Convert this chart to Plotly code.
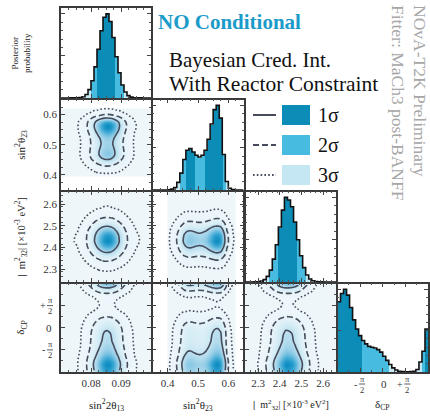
import numpy as np
import plotly.graph_objects as go

W, H = 430, 418

# ---------------- data ----------------
# axis ranges
TH13_RANGE = [0.07, 0.10]
TH23_RANGE = [0.35, 0.65]
DM2_RANGE = [2.24, 2.66]
DCP_RANGE = [-np.pi, np.pi]

# 1D posteriors, 30 equal bins across each range (relative height)
th13_post = [0.0005, 0.0006, 0.0008, 0.001, 0.0012, 0.0016, 0.005, 0.015, 0.042, 0.099,
             0.205, 0.37, 0.58, 0.80, 0.96, 1.0, 0.91, 0.72, 0.49, 0.30,
             0.155, 0.071, 0.028, 0.0099, 0.003, 0.0015, 0.001, 0.0008, 0.0006, 0.0005]
th23_post = [0, 0, 0, 0, 0, 0.002, 0.01, 0.03, 0.09, 0.2,
             0.36, 0.47, 0.49, 0.45, 0.41, 0.39, 0.41, 0.47, 0.6, 0.78,
             0.95, 1.0, 0.85, 0.42, 0.1, 0.02, 0.004, 0, 0, 0]
dm2_post = [0.0005, 0.0006, 0.0008, 0.001, 0.003, 0.010, 0.028, 0.067, 0.14, 0.27,
            0.44, 0.65, 0.85, 1.0, 0.97, 0.89, 0.71, 0.50, 0.31, 0.17,
            0.083, 0.036, 0.014, 0.005, 0.0015, 0.001, 0.0008, 0.0006, 0.0005, 0.0005]
dcp_post = [0.85, 0.95, 1.0, 0.93, 0.78, 0.63, 0.52, 0.44, 0.38, 0.34,
            0.31, 0.30, 0.29, 0.27, 0.24, 0.19, 0.14, 0.09, 0.05, 0.025,
            0.008, 0.004, 0.003, 0.003, 0.004, 0.008, 0.03, 0.12, 0.25, 0.52]

# tick labels
th13_ticks = [0.08, 0.09]
th13_ticktext = ["0.08", "0.09"]
th23_ticks = [0.4, 0.5, 0.6]
th23_ticktext = ["0.4", "0.5", "0.6"]
dm2_ticks = [2.3, 2.4, 2.5, 2.6]
dm2_ticktext = ["2.3", "2.4", "2.5", "2.6"]
dcp_ticks = [-np.pi / 2, 0.0, np.pi / 2]
dcp_sign = ["-", "", "+"]          # δ tick labels: sign + fraction (π over 2) or plain "0"
dcp_frac = [("π", "2"), None, ("π", "2")]

axis_titles = ["sin<sup>2</sup>2θ<sub>13</sub>", "sin<sup>2</sup>θ<sub>23</sub>",
               "<b>|</b>  m<sup>2</sup><sub>32</sub>| [×10<sup>-3</sup> eV<sup>2</sup>]",
               "δ<sub>CP</sub>"]
legend_labels = ["1σ", "2σ", "3σ"]
CRED = [0.6827, 0.9545, 0.9973]

# ---------------- styling ----------------
FONT = "Liberation Serif"
C_FILL = ["#0b8db8", "#47bbe0", "#c4e7f3"]
LINE_C = "#464c5c"
DASHES = ["solid", "6px,3px", "1.6px,2.2px"]
HEAT_CS = [[0, "#ffffff"], [1e-7, "#eef6fa"], [0.15, "#d4ecf5"], [0.45, "#92cce6"],
           [0.75, "#3ea9d5"], [1, "#0a8bbf"]]

params = [
    (TH13_RANGE, th13_post, th13_ticks, th13_ticktext, 0.0025),
    (TH23_RANGE, th23_post, th23_ticks, th23_ticktext, 0.025),
    (DM2_RANGE, dm2_post, dm2_ticks, dm2_ticktext, 0.025),
    (DCP_RANGE, dcp_post, dcp_ticks, ["", "", ""], np.pi / 4),
]

col_px = [(61, 151), (152.5, 243.5), (245, 336), (337.5, 428)]
row_px = [(8, 98), (99.5, 190), (191.5, 282), (283.5, 372)]


def xdom(c):
    a, b = col_px[c]
    return [a / W, b / W]


def ydom(r):
    a, b = row_px[r]
    return [1 - b / H, 1 - a / H]


def centers(rng, n):
    e = np.linspace(rng[0], rng[1], n + 1)
    return e, 0.5 * (e[:-1] + e[1:])


def minor_vals(rng, step, majors):
    n = int(round((rng[1] - rng[0]) / step))
    v = [rng[0] + i * step for i in range(n + 1)]
    return [x for x in v if all(abs(x - m) > step * 0.3 for m in majors)]


def hpd_levels(z):
    flat = np.sort(np.asarray(z, float).ravel())[::-1]
    cum = np.cumsum(flat) / flat.sum()
    return [flat[min(np.searchsorted(cum, p), len(flat) - 1)] for p in CRED]


fig = go.Figure()
layout = {}
panels = [(r, c) for r in range(4) for c in range(r + 1)]

for k, (r, c) in enumerate(panels):
    idx = k + 1
    xs = "x" if idx == 1 else f"x{idx}"
    ys = "y" if idx == 1 else f"y{idx}"
    rng_c, post_c, tv_c, tt_c, mdt_c = params[c]
    e_c, cen_c = centers(rng_c, len(post_c))
    if r == c:
        vals = np.array(post_c, float)
        lv = hpd_levels(vals)
        cols = []
        for v in vals:
            if v >= lv[0]:
                cols.append(C_FILL[0])
            elif v >= lv[1]:
                cols.append(C_FILL[1])
            elif v >= lv[2]:
                cols.append(C_FILL[2])
            else:
                cols.append("rgba(0,0,0,0)")
        bw = e_c[1] - e_c[0]
        fig.add_trace(go.Bar(x=cen_c, y=vals, width=bw, marker=dict(color=cols, line=dict(width=0)),
                             xaxis=xs, yaxis=ys, showlegend=False, hoverinfo="skip"))
        fig.add_trace(go.Scatter(x=[e_c[0]] + list(cen_c) + [e_c[-1]],
                                 y=[vals[0]] + list(vals) + [vals[-1]],
                                 mode="lines", line=dict(color="#111", width=1.6, shape="hvh"),
                                 xaxis=xs, yaxis=ys, showlegend=False, hoverinfo="skip"))
        yrng = [0, 1.07]
        ytv, ytt = [0, 0.5, 1.0], ["", "", ""]
        ymin = minor_vals([0, 1.07], 0.1, ytv)
    else:
        rng_r, post_r, tv_r, tt_r, mdt_r = params[r]
        e_r, cen_r = centers(rng_r, len(post_r))
        Z = np.outer(np.array(post_r, float), np.array(post_c, float))
        Z = Z / Z.max()
        fig.add_trace(go.Heatmap(x=cen_c, y=cen_r, z=Z, zmin=0, zmax=1, zsmooth="best",
                                 colorscale=HEAT_CS, showscale=False, hoverinfo="skip",
                                 xaxis=xs, yaxis=ys))
        lv = hpd_levels(Z)
        for L, dash in zip(lv, DASHES):
            fig.add_trace(go.Contour(x=cen_c, y=cen_r, z=Z, showscale=False, hoverinfo="skip",
                                     contours=dict(start=L, end=L, size=1, coloring="none"),
                                     line=dict(color=LINE_C, width=1.6, dash=dash, smoothing=1.0),
                                     xaxis=xs, yaxis=ys))
        yrng = rng_r
        ytv, ytt = tv_r, tt_r
        ymin = minor_vals(rng_r, mdt_r, tv_r)
    common = dict(showline=True, linewidth=1.6, linecolor="#3a3a3a", mirror="allticks",
                  ticks="inside", ticklen=4, tickwidth=1, tickcolor="#444",
                  showgrid=False, zeroline=False, fixedrange=True,
                  tickfont=dict(family=FONT, size=11, color="#333"))
    layout["xaxis" if idx == 1 else f"xaxis{idx}"] = dict(
        common, domain=xdom(c), range=rng_c, anchor=ys, tickmode="array",
        tickvals=tv_c, ticktext=tt_c, showticklabels=(r == 3 and c < 3),
        minor=dict(ticks="inside", ticklen=2, tickmode="array",
                   tickvals=minor_vals(rng_c, mdt_c, tv_c), tickcolor="#555"))
    layout["yaxis" if idx == 1 else f"yaxis{idx}"] = dict(
        common, domain=ydom(r), range=yrng, anchor=xs, tickmode="array",
        tickvals=ytv, ticktext=ytt, showticklabels=(c == 0 and 0 < r < 3),
        minor=dict(ticks="inside", ticklen=2, tickmode="array", tickvals=ymin, tickcolor="#555"))

annotations = []
shapes = []


def ann(x, y, text, size, color="#222", xanchor="center", yanchor="middle", angle=0):
    annotations.append(dict(x=x / W, y=1 - y / H, xref="paper", yref="paper",
                            xanchor=xanchor, yanchor=yanchor, text=text, showarrow=False,
                            textangle=angle, font=dict(family=FONT, size=size, color=color)))


# δ tick labels as stacked fractions, positioned from the axis scale
def dcp_px(v, lo, hi, flip=False):
    f = (v - DCP_RANGE[0]) / (DCP_RANGE[1] - DCP_RANGE[0])
    return hi - f * (hi - lo) if flip else lo + f * (hi - lo)


for v, s, fr in zip(dcp_ticks, dcp_sign, dcp_frac):
    xp = dcp_px(v, *col_px[3])
    yp = dcp_px(v, *row_px[3], flip=True)
    for (cx, cy, sx) in [(xp + 2, 384, xp - 5), (50, yp, 43)]:
        if fr is None:
            ann(cx - 1, cy, "0", 11, color="#333")
        else:
            ann(sx, cy, s, 10, color="#333")
            ann(cx, cy, fr[0] + "<br>" + fr[1], 8.5, color="#333")
            shapes.append(dict(type="line", xref="paper", yref="paper",
                               x0=(cx - 3) / W, x1=(cx + 3) / W, y0=1 - cy / H, y1=1 - cy / H,
                               line=dict(color="#333", width=0.8)))

# bottom axis titles
title_sizes = [11, 11, 10, 11]
for c in range(4):
    a, b = col_px[c]
    ann((a + b) / 2, 405, axis_titles[c], title_sizes[c])
# left axis titles
left_titles = ["Posterior<br>probability"] + axis_titles[1:]
for r in range(4):
    a, b = row_px[r]
    ann(21, (a + b) / 2, left_titles[r], [9, 11, 10.5, 11][r], angle=-90)
# headline texts
ann(156, 22, "<b>NO Conditional</b>", 21, color="#1b9bc9", xanchor="left")
ann(167, 60, "Bayesian Cred. Int.", 21, color="#111", xanchor="left")
ann(167, 84, "With Reactor Constraint", 21.5, color="#111", xanchor="left")
# rotated preliminary texts
ann(420, 3, "NOvA-T2K Preliminary", 17.5, color="#a6a6a6", yanchor="top", angle=90)
ann(398, 3, "Fitter: MaCh3 post-BANFF", 17.5, color="#a6a6a6", yanchor="top", angle=90)

# legend
for i in range(3):
    yc = 115 + 30 * i
    shapes.append(dict(type="line", xref="paper", yref="paper", x0=253 / W, x1=276 / W,
                       y0=1 - yc / H, y1=1 - yc / H, line=dict(color=LINE_C, width=2, dash=DASHES[i])))
    shapes.append(dict(type="rect", xref="paper", yref="paper", x0=282 / W, x1=310 / W,
                       y0=1 - (yc + 10) / H, y1=1 - (yc - 10) / H,
                       fillcolor=C_FILL[i], line=dict(width=0)))
    ann(316, yc, legend_labels[i], 20, color="#111", xanchor="left")

fig.update_layout(**layout)
fig.update_layout(width=W, height=H, margin=dict(l=0, r=0, t=0, b=0),
                  paper_bgcolor="white", plot_bgcolor="white",
                  annotations=annotations, shapes=shapes, showlegend=False,
                  bargap=0)
fig.write_html("out.html", config={"displayModeBar": False},
               post_script="document.body.style.margin='0';document.body.style.overflow='hidden';")
